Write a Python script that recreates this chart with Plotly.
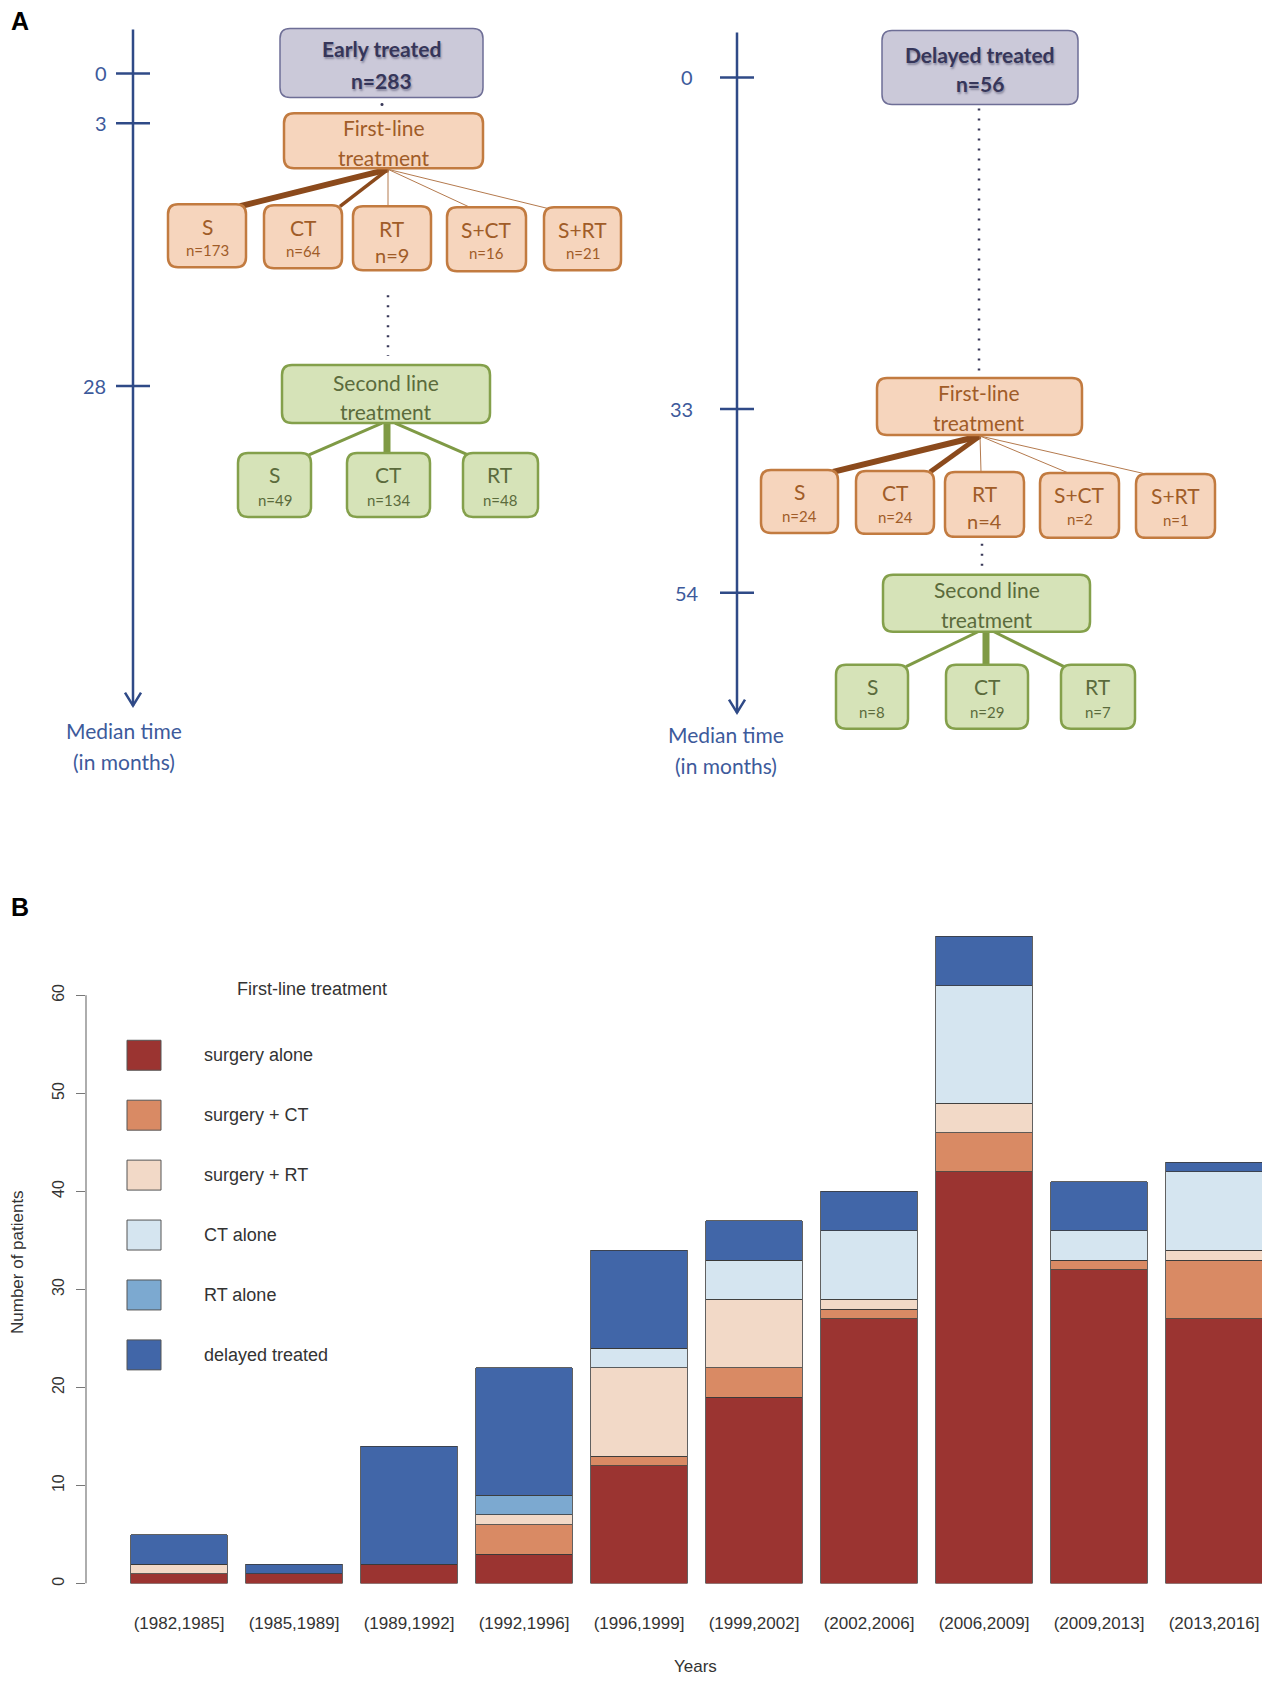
import plotly.graph_objects as go

W, H = 1270, 1682

# ---------------- Panel B data ----------------
periods = ["(1982,1985]", "(1985,1989]", "(1989,1992]", "(1992,1996]", "(1996,1999]",
           "(1999,2002]", "(2002,2006]", "(2006,2009]", "(2009,2013]", "(2013,2016]"]
surgery_alone = [1, 1, 2, 3, 12, 19, 27, 42, 32, 27]
surgery_ct = [0, 0, 0, 3, 1, 3, 1, 4, 1, 6]
surgery_rt = [1, 0, 0, 1, 9, 7, 1, 3, 0, 1]
ct_alone = [0, 0, 0, 0, 2, 4, 7, 12, 3, 8]
rt_alone = [0, 0, 0, 2, 0, 0, 0, 0, 0, 0]
delayed_treated = [3, 1, 12, 13, 10, 4, 4, 5, 5, 1]
series_names = ["surgery alone", "surgery + CT", "surgery + RT", "CT alone", "RT alone", "delayed treated"]
series_values = [surgery_alone, surgery_ct, surgery_rt, ct_alone, rt_alone, delayed_treated]
y_ticks = [0, 10, 20, 30, 40, 50, 60]

# ---------------- Panel A data ----------------
early_total = 283
delayed_total = 56
first_line_labels = ["S", "CT", "RT", "S+CT", "S+RT"]
early_first_n = [173, 64, 9, 16, 21]
delayed_first_n = [24, 24, 4, 2, 1]
second_line_labels = ["S", "CT", "RT"]
early_second_n = [49, 134, 48]
delayed_second_n = [8, 29, 7]
early_times = [0, 3, 28]
delayed_times = [0, 33, 54]

# ---------------- styles ----------------
bar_colors = ["#9B3431", "#D98A64", "#F2D9C7", "#D5E5F0", "#7CA9D0", "#4166A8"]
DIA_FONT = "Lato"
R_FONT = "Liberation Sans, Arial"
TL_LINE = "#2F4A87"
TL_TEXT = "#3D5A9B"
TOP_FILL, TOP_LINE, TOP_TEXT = "#CBC9D9", "#6E6E96", "#36365A"
OR_FILL, OR_LINE, OR_TEXT = "#F6D5BD", "#C27B40", "#A05C28"
GR_FILL, GR_LINE, GR_TEXT = "#D6E3B8", "#84A04B", "#5B6B3C"
BR_THICK = "#8B4A1C"
BR_THIN = "#B47A4E"
GR_BRANCH = "#7F9A45"
DOT = "#3A3A5A"

DX = -8.0
OFF = {"dy": -7.5}


def X(px):
    return (px + DX) / W


def Y(py):
    return 1 - (py + OFF["dy"]) / H


shapes = []
annotations = []


def rrect(x0, y0, x1, y1, fill, line, lw=2.5, r=9):
    p = (f"M {X(x0 + r)},{Y(y0)} L {X(x1 - r)},{Y(y0)} Q {X(x1)},{Y(y0)} {X(x1)},{Y(y0 + r)} "
         f"L {X(x1)},{Y(y1 - r)} Q {X(x1)},{Y(y1)} {X(x1 - r)},{Y(y1)} "
         f"L {X(x0 + r)},{Y(y1)} Q {X(x0)},{Y(y1)} {X(x0)},{Y(y1 - r)} "
         f"L {X(x0)},{Y(y0 + r)} Q {X(x0)},{Y(y0)} {X(x0 + r)},{Y(y0)} Z")
    shapes.append(dict(type="path", xref="paper", yref="paper", path=p, fillcolor=fill,
                       line=dict(color=line, width=lw), layer="above"))


def seg(x0, y0, x1, y1, color, width, dash="solid"):
    shapes.append(dict(type="line", xref="paper", yref="paper", x0=X(x0), y0=Y(y0), x1=X(x1), y1=Y(y1),
                       line=dict(color=color, width=width, dash=dash), layer="above"))


def text(x, y, s, size, color, bold=False, font=DIA_FONT, xanchor="center", angle=0, shadow=None):
    f = dict(family=font, size=size, color=color)
    if bold:
        f["weight"] = "bold"
    if shadow:
        f["shadow"] = shadow
    annotations.append(dict(x=X(x), y=Y(y), xref="paper", yref="paper", text=s, showarrow=False,
                            xanchor=xanchor, yanchor="middle", font=f, textangle=angle))


# ---------------- Panel A layout (pixel positions) ----------------
panels = [
    dict(
        title="Early treated", total=early_total, times=early_times,
        first_n=early_first_n, second_n=early_second_n,
        tl_x=133, tl_top=29, tl_bot=706, tick_y=[73, 123, 386], tick_lbl_x=[101, 101, 94],
        med_x=124, med_y=[731, 762],
        top_box=(280, 28, 483, 97), top_txt_y=[48, 80],
        link_dots=[(382, 104, 382, 104)],
        fl_box=(284, 113, 483, 168), fl_txt_y=[127, 157], fl_src=(388, 169),
        fl_boxes=[(168, 204, 246, 267), (264, 205, 342, 268), (353, 206, 431, 270),
                  (447, 207, 526, 271), (544, 207, 621, 270)],
        fl_ends=[(240, 206), (340, 206), (388, 206), (472, 208), (547, 208)],
        fl_widths=[6, 3.5, 1, 1, 1],
        mid_dots=(388, 295, 388, 356),
        sl_box=(282, 365, 490, 423), sl_txt_y=[382, 411],
        sl_src=[(382, 423), (387, 423), (395, 423)],
        sl_boxes=[(238, 453, 311, 517), (347, 453, 430, 517), (463, 453, 538, 517)],
        sl_ends=[(309, 455), (387, 453), (468, 455)],
        sl_widths=[3, 7, 3],
    ),
    dict(
        title="Delayed treated", total=delayed_total, times=delayed_times,
        first_n=delayed_first_n, second_n=delayed_second_n,
        tl_x=737, tl_top=32, tl_bot=713, tick_y=[77, 409, 593], tick_lbl_x=[687, 681, 687],
        med_x=726, med_y=[735, 766],
        top_box=(882, 30, 1078, 104), top_txt_y=[54, 83],
        link_dots=[(979, 108, 979, 375)],
        fl_box=(877, 378, 1082, 435), fl_txt_y=[392, 422], fl_src=(980, 436),
        fl_boxes=[(761, 470, 838, 533), (856, 471, 934, 534), (945, 472, 1024, 537),
                  (1040, 473, 1119, 538), (1136, 474, 1215, 538)],
        fl_ends=[(833, 472), (930, 472), (981, 472), (1073, 475), (1150, 475)],
        fl_widths=[6, 5, 1, 1, 1],
        mid_dots=(982, 544, 982, 569),
        sl_box=(883, 575, 1090, 632), sl_txt_y=[590, 620],
        sl_src=[(978, 632), (986, 632), (994, 632)],
        sl_boxes=[(836, 665, 908, 729), (946, 665, 1028, 729), (1061, 665, 1135, 729)],
        sl_ends=[(906, 667), (986, 665), (1064, 667)],
        sl_widths=[3, 7, 3],
    ),
]

for P in panels:
    # timeline
    seg(P["tl_x"], P["tl_top"], P["tl_x"], P["tl_bot"], TL_LINE, 2.5)
    ax, ay = P["tl_x"], P["tl_bot"]
    shapes.append(dict(type="path", xref="paper", yref="paper",
                       path=f"M {X(ax - 8)},{Y(ay - 13)} L {X(ax)},{Y(ay)} L {X(ax + 8)},{Y(ay - 13)}",
                       line=dict(color=TL_LINE, width=2.5), layer="above"))
    for t, ty, lx in zip(P["times"], P["tick_y"], P["tick_lbl_x"]):
        seg(ax - 17, ty, ax + 17, ty, TL_LINE, 2.5)
        text(lx, ty, str(t), 20, TL_TEXT)
    text(P["med_x"], P["med_y"][0], "Median time", 21, TL_TEXT)
    text(P["med_x"], P["med_y"][1], "(in months)", 21, TL_TEXT)

    # dotted links
    for (x0, y0, x1, y1) in P["link_dots"]:
        if y0 == y1:
            shapes.append(dict(type="circle", xref="paper", yref="paper", x0=X(x0 - 1.5), x1=X(x0 + 1.5),
                               y0=Y(y0 - 1.5), y1=Y(y0 + 1.5), fillcolor=DOT, line=dict(width=0), layer="above"))
        else:
            seg(x0, y0, x1, y1, DOT, 2.5, "2px,8px")
    x0, y0, x1, y1 = P["mid_dots"]
    seg(x0, y0, x1, y1, DOT, 2.5, "2px,8px")

    # top box
    bx0, by0, bx1, by1 = P["top_box"]
    rrect(bx0, by0, bx1, by1, TOP_FILL, TOP_LINE, 1.5, 10)
    cx = (bx0 + bx1) / 2
    sh = "1px 2px 2px rgba(60,60,90,0.45)"
    text(cx, P["top_txt_y"][0], P["title"], 21, TOP_TEXT, bold=True, shadow=sh)
    text(cx, P["top_txt_y"][1], f"n={P['total']}", 21, TOP_TEXT, bold=True, shadow=sh)

    # first-line branches
    sx, sy = P["fl_src"]
    for (ex, ey), w, n in zip(P["fl_ends"], P["fl_widths"], P["first_n"]):
        seg(sx, sy, ex, ey, BR_THICK if w > 2 else BR_THIN, w)
    bx0, by0, bx1, by1 = P["fl_box"]
    rrect(bx0, by0, bx1, by1, OR_FILL, OR_LINE, 2.5, 10)
    cx = (bx0 + bx1) / 2
    text(cx, P["fl_txt_y"][0], "First-line", 21, OR_TEXT)
    text(cx, P["fl_txt_y"][1], "treatment", 21, OR_TEXT)
    for (b0, b1, b2, b3), lab, n in zip(P["fl_boxes"], first_line_labels, P["first_n"]):
        rrect(b0, b1, b2, b3, OR_FILL, OR_LINE, 2.5, 10)
        c = (b0 + b2) / 2
        text(c, b1 + 22, lab, 21, OR_TEXT)
        big = lab == "RT"
        text(c, b1 + (49 if big else 46), f"n={n}", 20 if big else 15, OR_TEXT)

    # second-line branches
    for (sx, sy), (ex, ey), w in zip(P["sl_src"], P["sl_ends"], P["sl_widths"]):
        seg(sx, sy, ex, ey, GR_BRANCH, w)
    bx0, by0, bx1, by1 = P["sl_box"]
    rrect(bx0, by0, bx1, by1, GR_FILL, GR_LINE, 2.5, 10)
    cx = (bx0 + bx1) / 2
    text(cx, P["sl_txt_y"][0], "Second line", 21, GR_TEXT)
    text(cx, P["sl_txt_y"][1], "treatment", 21, GR_TEXT)
    for (b0, b1, b2, b3), lab, n in zip(P["sl_boxes"], second_line_labels, P["second_n"]):
        rrect(b0, b1, b2, b3, GR_FILL, GR_LINE, 2.5, 10)
        c = (b0 + b2) / 2
        text(c, b1 + 22, lab, 21, GR_TEXT)
        text(c, b1 + 47, f"n={n}", 15, GR_TEXT)

# panel letters
text(9, 21, "A", 25, "#000", bold=True, font="Liberation Sans, Arial", xanchor="left")

# ---------------- Panel B ----------------
OFF["dy"] = -5.5
text(9, 906, "B", 25, "#000", bold=True, font="Liberation Sans, Arial", xanchor="left")

x_left_px, bar1_c, step = 86 + DX, 179 + DX, 115
xlo = -(bar1_c - x_left_px) / step
xhi = 9.5
x_dom = [x_left_px / W, min(1.0, (bar1_c + xhi * step) / W)]
y0_px, unit_px = 1583 + OFF["dy"], (1583 - 994) / 60
ymax = 70
y_dom = [1 - y0_px / H, 1 - (y0_px - ymax * unit_px) / H]

fig = go.Figure()
for name, vals, col in zip(series_names, series_values, bar_colors):
    fig.add_trace(go.Bar(x=periods, y=vals, name=name,
                         marker=dict(color=col, line=dict(color="#3a3a3a", width=0.8)),
                         showlegend=False))

# y axis line (0 to 60 only, R style)
shapes.append(dict(type="line", xref="paper", yref="y", x0=x_dom[0], x1=x_dom[0], y0=y_ticks[0], y1=y_ticks[-1],
                   line=dict(color="#777", width=1.2)))

# legend (R style)
text(312, 988, "First-line treatment", 18, "#333", font=R_FONT)
for i, (name, col) in enumerate(zip(series_names, bar_colors)):
    cy = 1054 + 60 * i
    shapes.append(dict(type="rect", xref="paper", yref="paper", x0=X(127), x1=X(161), y0=Y(cy - 15), y1=Y(cy + 15),
                       fillcolor=col, line=dict(color="#555", width=1)))
    text(202, cy, name, 18, "#333", font=R_FONT, xanchor="left")

text(695, 1666, "Years", 17, "#333", font=R_FONT)
text(17, 1261, "Number of patients", 17, "#333", font=R_FONT, angle=-90)

fig.update_layout(
    width=W, height=H, margin=dict(l=0, r=0, t=0, b=0),
    paper_bgcolor="white", plot_bgcolor="white",
    barmode="stack", bargap=0.16,
    shapes=shapes, annotations=annotations,
    xaxis=dict(domain=x_dom, range=[xlo, xhi], type="category", showgrid=False, zeroline=False, showline=False,
               ticks="", tickfont=dict(family=R_FONT, size=17, color="#333"), ticklabelstandoff=27),
    yaxis=dict(domain=y_dom, range=[0, ymax], showgrid=False, zeroline=False, showline=False,
               tickvals=y_ticks, ticks="outside", ticklen=9, tickcolor="#777", tickwidth=1.2,
               tickangle=-90, tickfont=dict(family=R_FONT, size=16, color="#333"), ticklabelstandoff=6),
)

fig.write_html("out.html")
